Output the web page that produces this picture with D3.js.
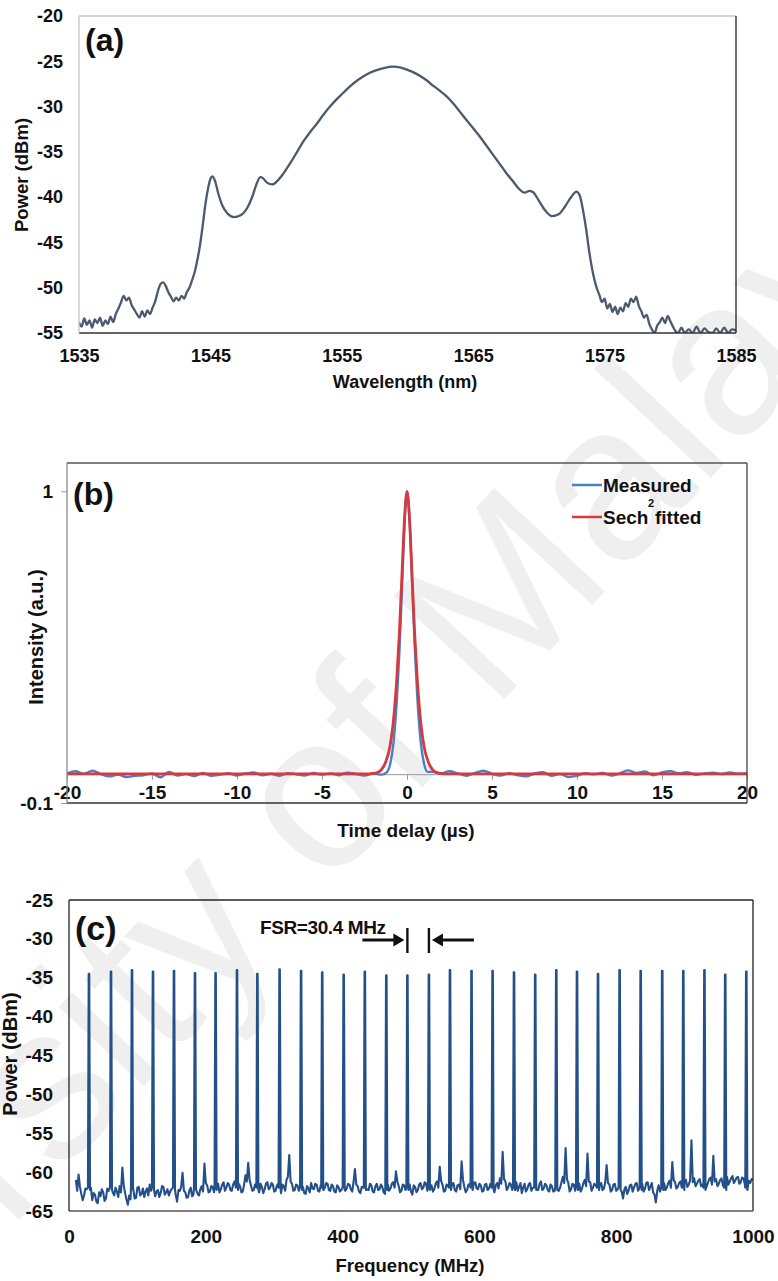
<!DOCTYPE html>
<html>
<head>
<meta charset="utf-8">
<script src="https://cdn.jsdelivr.net/npm/d3@7"></script>
<style>
  html, body { margin: 0; padding: 0; background: #fff; }
  svg { display: block; font-family: "Liberation Sans", Arial, sans-serif; }
</style>
</head>
<body>
<svg id="fig" width="778" height="1281"></svg>
<script>
// ---------------- (a) optical spectrum: [wavelength nm, power dBm] ----------------
const specTrace = [
  [1535.0,-53.8],[1535.2,-54.3],[1535.4,-53.4],[1535.6,-54.1],[1535.8,-53.6],[1536.0,-54.4],[1536.2,-53.5],[1536.4,-53.9],
  [1536.6,-53.3],[1536.8,-54.2],[1537.0,-53.6],[1537.2,-54.0],[1537.4,-53.2],[1537.6,-53.8],[1537.8,-52.9],[1538.0,-52.3],
  [1538.2,-51.6],[1538.4,-50.9],[1538.6,-51.4],[1538.8,-51.1],[1539.0,-51.9],[1539.2,-52.4],[1539.4,-52.9],[1539.6,-53.3],
  [1539.8,-52.6],[1540.0,-53.2],[1540.2,-52.5],[1540.4,-52.9],[1540.6,-52.2],[1540.8,-51.5],[1541.0,-50.4],[1541.2,-49.6],
  [1541.4,-49.4],[1541.6,-49.8],[1541.8,-50.5],[1542.0,-51.0],[1542.2,-51.5],[1542.4,-51.1],[1542.6,-51.4],[1542.8,-50.9],
  [1543.0,-51.2],[1543.2,-50.5],[1543.4,-50.0],[1543.6,-49.2],[1543.8,-48.3],[1544.0,-47.0],[1544.2,-45.4],[1544.4,-43.3],
  [1544.6,-41.0],[1544.8,-39.2],[1545.0,-38.0],[1545.15,-37.7],[1545.35,-38.2],[1545.6,-39.6],[1545.9,-40.9],[1546.3,-41.8],
  [1546.8,-42.2],[1547.3,-42.0],[1547.8,-41.2],[1548.2,-39.9],[1548.55,-38.4],[1548.8,-37.8],[1549.0,-37.9],[1549.3,-38.4],
  [1549.7,-38.6],[1550.1,-38.2],[1550.6,-37.3],[1551.1,-36.2],[1551.6,-35.0],[1552.1,-33.8],[1552.6,-32.8],[1553.1,-31.9],
  [1553.6,-30.9],[1554.1,-30.0],[1554.6,-29.2],[1555.1,-28.5],[1555.6,-27.8],[1556.1,-27.2],[1556.6,-26.7],[1557.1,-26.3],
  [1557.6,-26.0],[1558.2,-25.75],[1558.9,-25.6],[1559.5,-25.7],[1560.0,-25.95],[1560.5,-26.25],[1561.0,-26.65],[1561.5,-27.15],
  [1562.0,-27.75],[1562.5,-28.3],[1563.0,-28.9],[1563.5,-29.7],[1564.0,-30.6],[1564.5,-31.5],[1565.0,-32.4],[1565.5,-33.3],
  [1566.0,-34.3],[1566.5,-35.3],[1567.0,-36.3],[1567.5,-37.3],[1568.0,-38.2],[1568.5,-39.1],[1568.9,-39.5],[1569.3,-39.3],
  [1569.6,-39.5],[1570.0,-40.4],[1570.5,-41.5],[1571.0,-42.1],[1571.5,-41.9],[1572.0,-41.0],[1572.5,-39.9],[1572.85,-39.4],
  [1573.1,-39.8],[1573.35,-41.4],[1573.6,-43.6],[1573.85,-46.2],[1574.1,-48.3],[1574.35,-49.8],[1574.6,-50.8],[1574.8,-51.6],
  [1575.0,-51.2],[1575.2,-52.3],[1575.4,-51.8],[1575.6,-52.7],[1575.8,-52.1],[1576.0,-52.9],[1576.2,-52.2],[1576.4,-52.6],
  [1576.6,-51.7],[1576.8,-52.1],[1577.0,-51.2],[1577.2,-51.6],[1577.4,-51.0],[1577.6,-52.0],[1577.8,-52.6],[1578.0,-53.3],
  [1578.2,-53.0],[1578.4,-54.0],[1578.6,-54.6],[1578.8,-55.0],[1579.0,-54.2],[1579.2,-53.8],[1579.4,-53.3],[1579.6,-53.9],
  [1579.8,-53.1],[1580.0,-53.7],[1580.2,-54.3],[1580.4,-54.8],[1580.6,-55.0],[1580.85,-54.4],[1581.1,-55.0],[1581.4,-54.6],
  [1581.7,-55.0],[1582.0,-54.3],[1582.3,-55.0],[1582.6,-54.5],[1582.9,-54.9],[1583.2,-55.0],[1583.5,-54.5],[1583.8,-55.0],
  [1584.1,-54.4],[1584.4,-55.0],[1584.7,-54.6],[1585.0,-54.7]
];
const specTicksX = [1535, 1545, 1555, 1565, 1575, 1585];
const specTicksY = [-20, -25, -30, -35, -40, -45, -50, -55];

// ---------------- (b) autocorrelation trace: [delay us, intensity a.u.] ----------------
const measuredTrace = [
  [-20,0.004],[-19.5,0.012],[-19,0.003],[-18.5,0.014],[-18,0.002],[-17.5,-0.006],[-17,0.0],[-16.5,-0.008],[-16,-0.004],
  [-15.5,-0.002],[-15,0.004],[-14.5,-0.009],[-14,0.010],[-13.5,-0.003],[-13,0.002],[-12.5,-0.005],[-12,0.006],[-11.5,-0.004],
  [-11,0.0],[-10.5,0.005],[-10,-0.003],[-9.5,0.004],[-9,0.008],[-8.5,-0.002],[-8,0.003],[-7.5,-0.004],[-7,0.005],[-6.5,0.001],
  [-6,-0.003],[-5.5,0.006],[-5,0.0],[-4.5,0.004],[-4,-0.002],[-3.5,0.007],[-3,0.002],[-2.5,-0.003],[-2,0.004],[-1.5,0.0],
  [-1.2,0.008],[-1.0,0.035],[-0.8,0.11],[-0.6,0.26],[-0.45,0.43],[-0.3,0.65],[-0.15,0.88],[0,1.0],[0.15,0.9],[0.3,0.68],
  [0.45,0.46],[0.6,0.28],[0.8,0.12],[1.0,0.04],[1.2,0.01],[1.5,0.01],
  [2,0.005],[2.5,0.012],[3,0.004],[3.5,-0.004],[4,0.006],[4.5,0.014],[5,0.003],[5.5,-0.003],[6,0.005],[6.5,-0.002],
  [7,-0.006],[7.5,0.004],[8,0.009],[8.5,-0.004],[9,0.002],[9.5,-0.008],[10,-0.004],[10.5,0.005],[11,0.001],[11.5,0.006],
  [12,-0.003],[12.5,0.004],[13,0.015],[13.5,0.006],[14,0.011],[14.5,-0.002],[15,0.008],[15.5,0.012],[16,0.005],[16.5,0.009],
  [17,-0.001],[17.5,0.004],[18,0.007],[18.5,0.002],[19,0.008],[19.5,0.003],[20,0.006]
];
const fitTrace = [
  [-20,0.003],[-2.2,0.003],[-1.8,0.006],[-1.5,0.018],[-1.25,0.045],[-1.0,0.1],[-0.8,0.19],[-0.6,0.34],[-0.45,0.5],
  [-0.3,0.7],[-0.15,0.9],[0,1.0],[0.15,0.9],[0.3,0.7],[0.45,0.5],[0.6,0.34],[0.8,0.19],[1.0,0.1],[1.25,0.045],
  [1.5,0.018],[1.8,0.006],[2.2,0.003],[20,0.003]
];
const delayTicks = [-20, -15, -10, -5, 0, 5, 10, 15, 20];
const intensityTicks = [1, -0.1];
const legendNames = ["Measured", "Sech", "fitted"];

// ---------------- (c) RF spectrum ----------------
const combFreq = [29.2, 61.4, 92.1, 122.8, 153.5, 184.2, 214.3, 245.6, 275.4, 307.9, 339.3, 370.2, 401.6, 432.5, 463.9, 494.7,
                  526.2, 557.0, 588.5, 619.3, 650.6, 681.6, 712.4, 742.7, 773.4, 805.0, 835.8, 867.3, 898.1, 929.0, 959.4, 990.2];
const combPower = [-34.5, -34.2, -34.0, -34.2, -34.1, -34.4, -34.4, -34.0, -34.5, -33.9, -34.1, -34.3, -34.6, -34.2, -34.7, -34.7,
                   -34.6, -34.0, -34.1, -34.1, -34.3, -34.6, -34.0, -34.2, -34.5, -34.0, -34.1, -34.1, -34.1, -34.0, -34.6, -34.2];
// noise floor sampled every 2 MHz from 10 MHz: even samples (10, 14, 18 ...) and odd samples (12, 16, 20 ...)
const floorStart = 10, floorStep = 4;
const floorPower = [
  -61.0,-60.3,-62.8,-63.0,-62.2,-62.5,-63.6,-62.9,-64.0,-63.1,-62.6,-63.4,-62.4,-62.0,-63.0,-62.5,-61.8,-59.4,-62.7,-64.2,
  -63.5,-62.2,-63.3,-61.9,-62.8,-63.2,-62.1,-61.6,-62.9,-63.1,-62.3,-62.7,-61.9,-62.6,-63.0,-62.2,-62.8,-63.8,-62.4,-60.1,
  -62.6,-63.2,-62.0,-62.9,-62.3,-63.0,-61.8,-58.9,-61.7,-62.5,-61.9,-62.8,-61.5,-62.2,-61.3,-62.0,-61.6,-62.4,-61.2,-62.1,
  -61.8,-62.5,-60.4,-58.8,-61.7,-62.3,-61.4,-62.6,-61.9,-62.2,-61.3,-62.0,-61.6,-62.4,-61.5,-62.7,-61.8,-61.0,-57.8,-61.5,
  -62.3,-61.7,-62.5,-61.9,-62.8,-62.1,-61.4,-62.2,-61.6,-62.5,-61.3,-62.0,-61.5,-62.4,-61.8,-62.6,-61.9,-62.3,-61.2,-62.1,
  -61.6,-62.5,-59.6,-61.8,-62.7,-62.0,-61.4,-62.3,-61.7,-62.6,-61.5,-62.2,-61.9,-62.8,-61.6,-62.1,-61.3,-59.9,-61.8,-62.4,
  -61.7,-62.5,-61.6,-62.9,-61.9,-62.3,-61.4,-62.0,-61.5,-62.6,-61.7,-62.2,-61.2,-59.3,-61.6,-62.4,-61.8,-62.1,-61.4,-62.5,
  -61.6,-58.6,-61.9,-62.3,-61.5,-62.0,-61.3,-62.2,-61.7,-62.4,-61.5,-62.1,-61.8,-62.6,-61.4,-60.8,-57.4,-61.2,-62.0,-61.6,
  -62.4,-61.3,-61.9,-62.7,-61.5,-62.2,-61.4,-62.0,-61.6,-62.3,-61.2,-62.1,-61.7,-62.5,-61.8,-62.4,-61.5,-62.0,-60.6,-56.9,
  -61.4,-62.2,-61.6,-62.3,-61.5,-62.1,-61.0,-57.6,-61.3,-62.0,-61.7,-62.5,-61.4,-62.1,-59.1,-61.6,-62.3,-61.5,-62.2,-61.3,
  -63.4,-61.9,-62.4,-61.6,-62.0,-61.4,-62.3,-61.5,-62.1,-61.3,-61.9,-62.6,-63.9,-61.7,-62.2,-61.4,-62.0,-61.1,-58.7,-61.3,
  -61.9,-61.2,-61.8,-61.0,-61.6,-55.9,-60.8,-61.5,-60.9,-61.6,-61.0,-61.4,-60.7,-57.9,-60.9,-61.5,-60.8,-61.3,-60.6,-61.2,
  -60.5,-61.1,-60.6,-61.3,-60.8,-61.2,-61.1,-60.9
];
const floorPowerOdd = [
  -62.4,-61.9,-63.6,-62.1,-63.3,-62.0,-62.7,-63.8,-62.6,-62.2,-63.7,-62.1,-63.1,-62.6,-62.0,-63.2,-62.6,-61.7,-63.5,-63.0,
  -62.6,-63.4,-62.0,-63.0,-62.1,-62.5,-63.0,-62.4,-62.2,-62.5,-63.2,-61.8,-62.9,-62.2,-62.5,-63.1,-62.9,-62.3,-61.9,-62.4,
  -63.3,-62.4,-63.1,-62.0,-62.8,-62.2,-62.5,-61.4,-62.6,-61.8,-62.6,-61.9,-62.6,-61.6,-62.4,-61.4,-62.3,-61.6,-62.5,-61.5,
  -62.6,-61.6,-61.2,-61.0,-62.4,-61.6,-62.3,-61.5,-62.7,-61.5,-62.2,-61.4,-62.5,-61.7,-62.3,-61.6,-62.4,-60.6,-61.2,-62.4,
  -61.6,-62.4,-61.7,-62.7,-61.8,-62.6,-62.1,-61.5,-62.4,-61.7,-62.3,-61.4,-62.3,-61.6,-62.5,-61.7,-62.5,-61.6,-62.4,-61.5,
  -62.2,-61.3,-61.6,-62.5,-61.9,-62.6,-62.2,-61.5,-62.5,-61.8,-62.3,-61.6,-62.6,-61.9,-62.4,-61.5,-62.0,-61.2,-62.6,-61.6,
  -62.3,-61.8,-62.5,-61.7,-62.6,-61.6,-62.2,-61.3,-62.4,-61.8,-62.5,-61.5,-62.0,-61.1,-62.5,-61.6,-62.4,-61.5,-62.3,-61.7,
  -62.2,-61.0,-62.6,-61.6,-62.3,-61.4,-62.1,-61.5,-62.5,-61.6,-62.3,-61.5,-62.4,-61.7,-62.1,-61.5,-60.9,-62.3,-61.4,-62.3,
  -61.7,-62.4,-61.4,-62.0,-62.5,-61.6,-62.4,-61.5,-62.2,-61.5,-62.3,-61.5,-62.3,-61.6,-62.5,-61.6,-62.4,-61.3,-61.4,-60.9,
  -62.5,-61.5,-62.4,-61.6,-62.5,-61.4,-61.8,-61.2,-62.4,-61.5,-62.4,-61.6,-62.3,-61.3,-61.4,-62.5,-61.6,-62.4,-61.5,-62.5,
  -62.2,-62.8,-61.7,-62.5,-61.5,-62.4,-61.7,-62.5,-61.4,-62.3,-61.4,-62.9,-62.4,-62.5,-61.6,-62.3,-61.4,-62.0,-61.0,-62.1,
  -61.4,-62.0,-61.2,-61.9,-61.1,-61.3,-61.8,-61.1,-61.8,-61.2,-61.9,-60.9,-61.6,-61.2,-61.8,-61.0,-61.7,-60.9,-61.6,-60.8,
  -61.4,-60.7,-61.5,-60.7,-61.5,-60.6,-61.4,-61.0
];
const rfTicksX = [0, 200, 400, 600, 800, 1000];
const rfTicksY = [-25, -30, -35, -40, -45, -50, -55, -60, -65];
const fsrLabel = "FSR=30.4 MHz";

// ---------------- drawing ----------------
const svg = d3.select("#fig");
const FONT = "'Liberation Sans', Arial, sans-serif";
const plain = d => String(d);   // keep ASCII hyphen-minus in tick labels

svg.append("rect").attr("width", 778).attr("height", 1281).attr("fill", "#fff");

// faint institutional watermark running diagonally behind the panels
(function () {
  const fs = 220;
  svg.append("text")
    .attr("transform", "translate(330,770) rotate(-47)")
    .attr("x", -5.084 * fs)
    .attr("dy", "0.36em")
    .attr("font-family", FONT)
    .attr("font-size", fs)
    .attr("fill", "#efefef")
    .text("University of Malaya");
})();

function frame(g, b, c) {
  const segs = [
    [b.x0, b.y0, b.x1, b.y0, c[0]],
    [b.x1, b.y0, b.x1, b.y1, c[1]],
    [b.x0, b.y1, b.x1, b.y1, c[2]],
    [b.x0, b.y0, b.x0, b.y1, c[3]]
  ];
  g.append("g").selectAll("line").data(segs).join("line")
    .attr("x1", d => d[0]).attr("y1", d => d[1]).attr("x2", d => d[2]).attr("y2", d => d[3])
    .attr("stroke", d => d[4]).attr("stroke-width", 1.3);
}

function styleAxis(g, size) {
  g.attr("font-family", FONT).attr("font-size", size).attr("font-weight", "bold");
  g.select(".domain").remove();
  g.selectAll("text").attr("fill", "#111");
}

function clipFor(id, b) {
  svg.append("clipPath").attr("id", id).append("rect")
    .attr("x", b.x0).attr("y", b.y0).attr("width", b.x1 - b.x0).attr("height", b.y1 - b.y0);
}

// ===== panel (a) =====
{
  const b = { x0: 79, y0: 16, x1: 736, y1: 333 };
  const x = d3.scaleLinear().domain([1535, 1585]).range([b.x0, b.x1]);
  const y = d3.scaleLinear().domain([-55, -20]).range([b.y1, b.y0]);
  const g = svg.append("g");
  clipFor("clipA", b);

  g.append("path").datum(specTrace)
    .attr("clip-path", "url(#clipA)")
    .attr("fill", "none").attr("stroke", "#4b5a6f").attr("stroke-width", 2.3)
    .attr("stroke-linejoin", "round")
    .attr("d", d3.line().x(d => x(d[0])).y(d => y(d[1])).curve(d3.curveMonotoneX));

  frame(g, b, ["#c4c4c4", "#222", "#333", "#c4c4c4"]);

  g.append("g").attr("transform", `translate(${b.x0},0)`)
    .call(d3.axisLeft(y).tickValues(specTicksY).tickSize(0).tickPadding(16).tickFormat(plain))
    .call(a => styleAxis(a, 18));
  g.append("g").attr("transform", `translate(0,${b.y1})`)
    .call(d3.axisBottom(x).tickValues(specTicksX).tickSize(0).tickPadding(16).tickFormat(plain))
    .call(a => styleAxis(a, 18));

  g.append("text").attr("x", 85).attr("y", 51).attr("font-family", FONT).attr("font-weight", "bold")
    .attr("font-size", 32).attr("fill", "#111").text("(a)");
  g.append("text").attr("x", 405).attr("y", 388).attr("text-anchor", "middle")
    .attr("font-family", FONT).attr("font-weight", "bold").attr("font-size", 18).attr("fill", "#111")
    .text("Wavelength (nm)");
  g.append("text").attr("transform", "translate(28,175) rotate(-90)").attr("text-anchor", "middle")
    .attr("font-family", FONT).attr("font-weight", "bold").attr("font-size", 18.5).attr("fill", "#111")
    .text("Power (dBm)");
}

// ===== panel (b) =====
{
  const b = { x0: 67, y0: 463, x1: 747, y1: 803 };
  const x = d3.scaleLinear().domain([-20, 20]).range([b.x0, b.x1]);
  const y = d3.scaleLinear().domain([-0.1, 1.1]).range([b.y1, b.y0]);
  const g = svg.append("g");
  clipFor("clipB", b);

  // zero line with downward ticks, labels sit at the frame bottom
  g.append("line").attr("x1", b.x0).attr("x2", b.x1).attr("y1", y(0)).attr("y2", y(0))
    .attr("stroke", "#9a9a9a").attr("stroke-width", 1);
  const xa = g.append("g").attr("transform", `translate(0,${y(0)})`)
    .call(d3.axisBottom(x).tickValues(delayTicks).tickSize(5).tickPadding(6).tickFormat(plain))
    .call(a => styleAxis(a, 19));
  xa.selectAll("line").attr("stroke", "#9a9a9a");

  const line = d3.line().x(d => x(d[0])).y(d => y(d[1])).curve(d3.curveMonotoneX);
  g.append("path").datum(measuredTrace).attr("clip-path", "url(#clipB)")
    .attr("fill", "none").attr("stroke", "#4a7fc9").attr("stroke-width", 2.4).attr("d", line);
  g.append("path").datum(fitTrace).attr("clip-path", "url(#clipB)")
    .attr("fill", "none").attr("stroke", "#d33b3e").attr("stroke-width", 2.8).attr("d", line);

  frame(g, b, ["#555", "#444", "#333", "#8a8a8a"]);

  const ya = g.append("g").attr("transform", `translate(${b.x0},0)`)
    .call(d3.axisLeft(y).tickValues(intensityTicks).tickSize(6).tickPadding(8).tickFormat(plain))
    .call(a => styleAxis(a, 19));
  ya.selectAll("line").attr("stroke", "#9a9a9a");

  g.append("text").attr("x", 73).attr("y", 505).attr("font-family", FONT).attr("font-weight", "bold")
    .attr("font-size", 32).attr("fill", "#111").text("(b)");

  // legend
  const lg = g.append("g").attr("font-family", FONT).attr("font-weight", "bold").attr("fill", "#111");
  lg.append("line").attr("x1", 572).attr("x2", 602).attr("y1", 485).attr("y2", 485)
    .attr("stroke", "#4a7fc9").attr("stroke-width", 2.5);
  lg.append("line").attr("x1", 572).attr("x2", 602).attr("y1", 517).attr("y2", 517)
    .attr("stroke", "#d33b3e").attr("stroke-width", 2.5);
  lg.append("text").attr("x", 603).attr("y", 492).attr("font-size", 19).text(legendNames[0]);
  lg.append("text").attr("x", 603).attr("y", 524).attr("font-size", 19).text(legendNames[1]);
  lg.append("text").attr("x", 648).attr("y", 507).attr("font-size", 11).text("2");
  lg.append("text").attr("x", 655).attr("y", 524).attr("font-size", 19).text(legendNames[2]);

  g.append("text").attr("x", 406).attr("y", 837).attr("text-anchor", "middle")
    .attr("font-family", FONT).attr("font-weight", "bold").attr("font-size", 19).attr("fill", "#111")
    .text("Time delay (\u00b5s)");
  g.append("text").attr("transform", "translate(43,637) rotate(-90)").attr("text-anchor", "middle")
    .attr("font-family", FONT).attr("font-weight", "bold").attr("font-size", 20).attr("fill", "#111")
    .text("Intensity (a.u.)");
}

// ===== panel (c) =====
{
  const b = { x0: 69, y0: 900, x1: 753, y1: 1211 };
  const x = d3.scaleLinear().domain([0, 1000]).range([b.x0, b.x1]);
  const y = d3.scaleLinear().domain([-65, -25]).range([b.y1, b.y0]);
  const g = svg.append("g");
  clipFor("clipC", b);

  // merge the sampled floor with the narrow comb lines
  const samples = [];
  floorPower.forEach((p, i) => samples.push([floorStart + i * floorStep, p]));
  floorPowerOdd.forEach((p, i) => samples.push([floorStart + floorStep / 2 + i * floorStep, p]));
  const pts = samples.filter(s => !combFreq.some(c => Math.abs(c - s[0]) < 1.8));
  combFreq.forEach((c, i) => {
    pts.push([c - 1.5, -62.0], [c - 0.4, combPower[i]], [c + 0.4, combPower[i]], [c + 1.5, -62.3]);
  });
  pts.sort((p, q) => p[0] - q[0]);

  g.append("path").datum(pts).attr("clip-path", "url(#clipC)")
    .attr("fill", "none").attr("stroke", "#24508a").attr("stroke-width", 2.1)
    .attr("stroke-linejoin", "round")
    .attr("d", d3.line().x(d => x(d[0])).y(d => y(d[1])));

  frame(g, b, ["#222", "#222", "#555", "#222"]);

  g.append("g").attr("transform", `translate(${b.x0},0)`)
    .call(d3.axisLeft(y).tickValues(rfTicksY).tickSize(0).tickPadding(16).tickFormat(plain))
    .call(a => styleAxis(a, 19));
  g.append("g").attr("transform", `translate(0,${b.y1})`)
    .call(d3.axisBottom(x).tickValues(rfTicksX).tickSize(0).tickPadding(19).tickFormat(plain))
    .call(a => styleAxis(a, 19));

  g.append("text").attr("x", 75).attr("y", 940).attr("font-family", FONT).attr("font-weight", "bold")
    .attr("font-size", 34).attr("fill", "#111").text("(c)");

  // FSR annotation between two neighbouring comb lines
  const xa = x(combFreq[15]), xb = x(combFreq[16]);
  g.append("text").attr("x", 260).attr("y", 934).attr("font-family", FONT).attr("font-weight", "bold")
    .attr("font-size", 19).attr("letter-spacing", "-0.4").attr("fill", "#111").text(fsrLabel);
  const ann = g.append("g").attr("stroke", "#111");
  ann.append("line").attr("x1", xa).attr("x2", xa).attr("y1", 928).attr("y2", 953).attr("stroke-width", 2.4);
  ann.append("line").attr("x1", xb).attr("x2", xb).attr("y1", 928).attr("y2", 953).attr("stroke-width", 2.4);
  ann.append("line").attr("x1", xa - 45).attr("x2", xa - 10).attr("y1", 940).attr("y2", 940).attr("stroke-width", 3.2);
  ann.append("line").attr("x1", xb + 45).attr("x2", xb + 10).attr("y1", 940).attr("y2", 940).attr("stroke-width", 3.2);
  g.append("path").attr("fill", "#111")
    .attr("d", `M${xa - 3},940 L${xa - 14},933.5 L${xa - 14},946.5 Z`);
  g.append("path").attr("fill", "#111")
    .attr("d", `M${xb + 3},940 L${xb + 14},933.5 L${xb + 14},946.5 Z`);

  g.append("text").attr("x", 410).attr("y", 1272).attr("text-anchor", "middle")
    .attr("font-family", FONT).attr("font-weight", "bold").attr("font-size", 18.5).attr("fill", "#111")
    .text("Frequency (MHz)");
  g.append("text").attr("transform", "translate(17,1054) rotate(-90)").attr("text-anchor", "middle")
    .attr("font-family", FONT).attr("font-weight", "bold").attr("font-size", 20).attr("fill", "#111")
    .text("Power (dBm)");
}
</script>
</body>
</html>
